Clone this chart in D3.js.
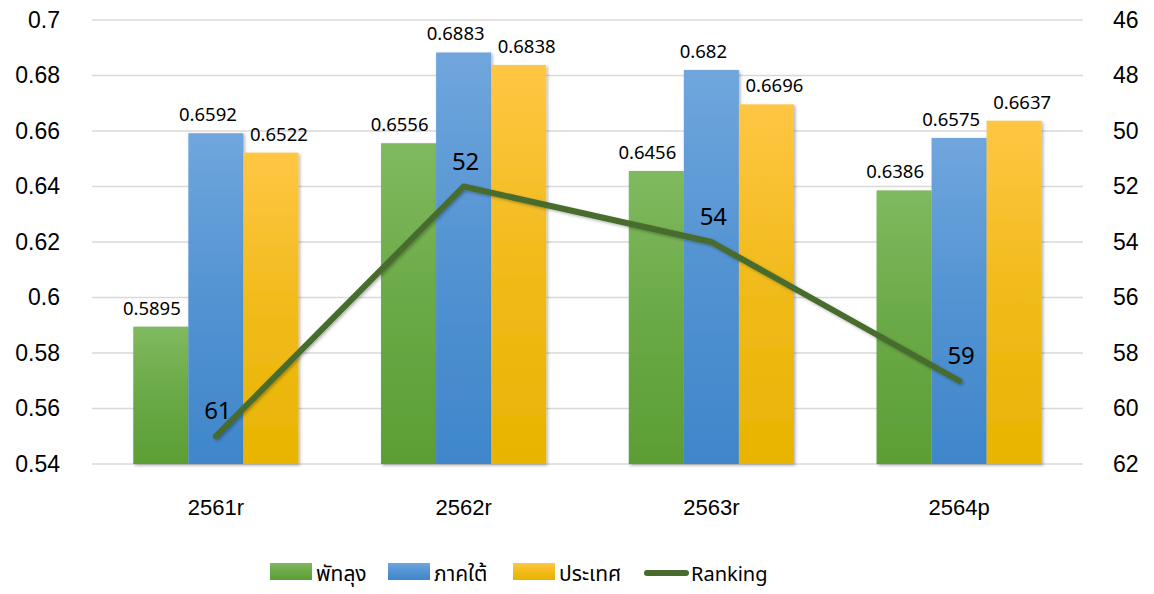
<!DOCTYPE html>
<html><head><meta charset="utf-8">
<script src="https://cdn.jsdelivr.net/npm/d3@7"></script>
<style>
body{margin:0;background:#fff;}
svg{display:block;font-family:"Noto Sans","Noto Sans Thai","DejaVu Sans",sans-serif;}
</style></head>
<body><svg id="c" width="1154" height="594"></svg>
<script>
const categories = ["2561r","2562r","2563r","2564p"];
const seriesNames = ["พัทลุง","ภาคใต้","ประเทศ"];
const phatthalung = [0.5895,0.6556,0.6456,0.6386];
const south = [0.6592,0.6883,0.682,0.6575];
const country = [0.6522,0.6838,0.6696,0.6637];
const ranking = [61,52,54,59];
const leftTicks = [0.54,0.56,0.58,0.6,0.62,0.64,0.66,0.68,0.7];
const rightTicks = [46,48,50,52,54,56,58,60,62];

const svg = d3.select("#c");
const L=92, R=1083, T=20, B=464;
const x = d3.scaleBand().domain(categories).range([L,R]).paddingInner(0).paddingOuter(0);
const xs = d3.scaleBand().domain(seriesNames).range([0,x.bandwidth()]).paddingInner(0).paddingOuter(0.75);
const y = d3.scaleLinear().domain([0.54,0.7]).range([B,T]);
const y2 = d3.scaleLinear().domain([46,62]).range([T,B]);

const defs = svg.append("defs");
const grads = [["#80ba60","#5c9e34"],["#70a6dd","#3f86cb"],["#ffc644","#e8b400"]];
grads.forEach((g,i)=>{
  const lg = defs.append("linearGradient").attr("id","g"+i).attr("x1",0).attr("y1",0).attr("x2",0).attr("y2",1);
  lg.append("stop").attr("offset","0%").attr("stop-color",g[0]);
  lg.append("stop").attr("offset","50%").attr("stop-color",d3.interpolateRgb(g[0],g[1])(0.6));
  lg.append("stop").attr("offset","100%").attr("stop-color",g[1]);
});
const f = defs.append("filter").attr("id","sh").attr("x","-20%").attr("y","-20%").attr("width","140%").attr("height","140%");
f.append("feDropShadow").attr("dx",1.5).attr("dy",1.5).attr("stdDeviation",1.5).attr("flood-color","#000").attr("flood-opacity",0.3);

// grid
svg.append("g").selectAll("line").data(leftTicks).join("line")
  .attr("x1",L).attr("x2",R).attr("y1",d=>y(d)).attr("y2",d=>y(d))
  .attr("stroke","#d9d9d9").attr("stroke-width",1.3);

// left axis labels
const yAxis = d3.axisLeft(y).tickValues(leftTicks).tickSize(0).tickPadding(0).tickFormat(d=>String(+d.toFixed(2)));
const ga = svg.append("g").attr("transform",`translate(60,0)`).call(yAxis);
ga.select(".domain").remove();
ga.selectAll("text").attr("font-size",23).attr("fill","#000").attr("font-family","inherit");

const y2Axis = d3.axisRight(y2).tickValues(rightTicks).tickSize(0).tickPadding(0);
const gb = svg.append("g").attr("transform",`translate(1113,0)`).call(y2Axis);
gb.select(".domain").remove();
gb.selectAll("text").attr("font-size",23).attr("fill","#000").attr("font-family","inherit");

// bars
const series = [phatthalung,south,country];
const gBars = svg.append("g");
series.forEach((vals,si)=>{
  gBars.selectAll(null).data(vals).join("rect")
    .attr("x",(d,i)=>x(categories[i])+xs(seriesNames[si]))
    .attr("y",d=>y(d)).attr("width",xs.bandwidth()).attr("height",d=>B-y(d))
    .attr("fill",`url(#g${si})`).attr("filter","url(#sh)");
});
const labelShift = [-9,-8,8];
series.forEach((vals,si)=>{
  svg.append("g").selectAll("text").data(vals).join("text")
    .attr("x",(d,i)=>x(categories[i])+xs(seriesNames[si])+xs.bandwidth()/2+labelShift[si])
    .attr("y",d=>y(d)-12).attr("text-anchor","middle").attr("font-size",18.5).attr("fill","#000")
    .text(d=>String(d));
});

// category labels
const xAxis = d3.axisBottom(x).tickSize(0).tickPadding(0);
const gx = svg.append("g").attr("transform",`translate(0,${B+35})`).call(xAxis);
gx.select(".domain").remove();
gx.selectAll("text").attr("font-size",22).attr("fill","#000").attr("font-family","inherit");

// line
const line = d3.line().x((d,i)=>x(categories[i])+x.bandwidth()/2).y(d=>y2(d));
svg.append("path").datum(ranking).attr("d",line).attr("fill","none")
  .attr("stroke","#476c2d").attr("stroke-width",6).attr("stroke-linecap","round").attr("stroke-linejoin","round")
  .attr("filter","url(#sh)");
svg.append("g").selectAll("text").data(ranking).join("text")
  .attr("x",(d,i)=>x(categories[i])+x.bandwidth()/2+2).attr("y",d=>y2(d)-17)
  .attr("text-anchor","middle").attr("font-size",24).attr("fill","#000").text(d=>d);

// legend
const lg = svg.append("g");
const items = [{t:seriesNames[0],x:270,c:0},{t:seriesNames[1],x:388,c:1},{t:seriesNames[2],x:513,c:2}];
items.forEach(it=>{
  lg.append("rect").attr("x",it.x).attr("y",563).attr("width",42).attr("height",17).attr("fill",`url(#g${it.c})`);
  lg.append("text").attr("x",it.x+46).attr("y",581).attr("font-size",21).attr("fill","#000").text(it.t);
});
lg.append("line").attr("x1",647).attr("x2",686).attr("y1",573).attr("y2",573).attr("stroke","#476c2d").attr("stroke-width",6).attr("stroke-linecap","round");
lg.append("text").attr("x",691).attr("y",581).attr("font-size",20).attr("fill","#000").text("Ranking");
</script></body></html>
